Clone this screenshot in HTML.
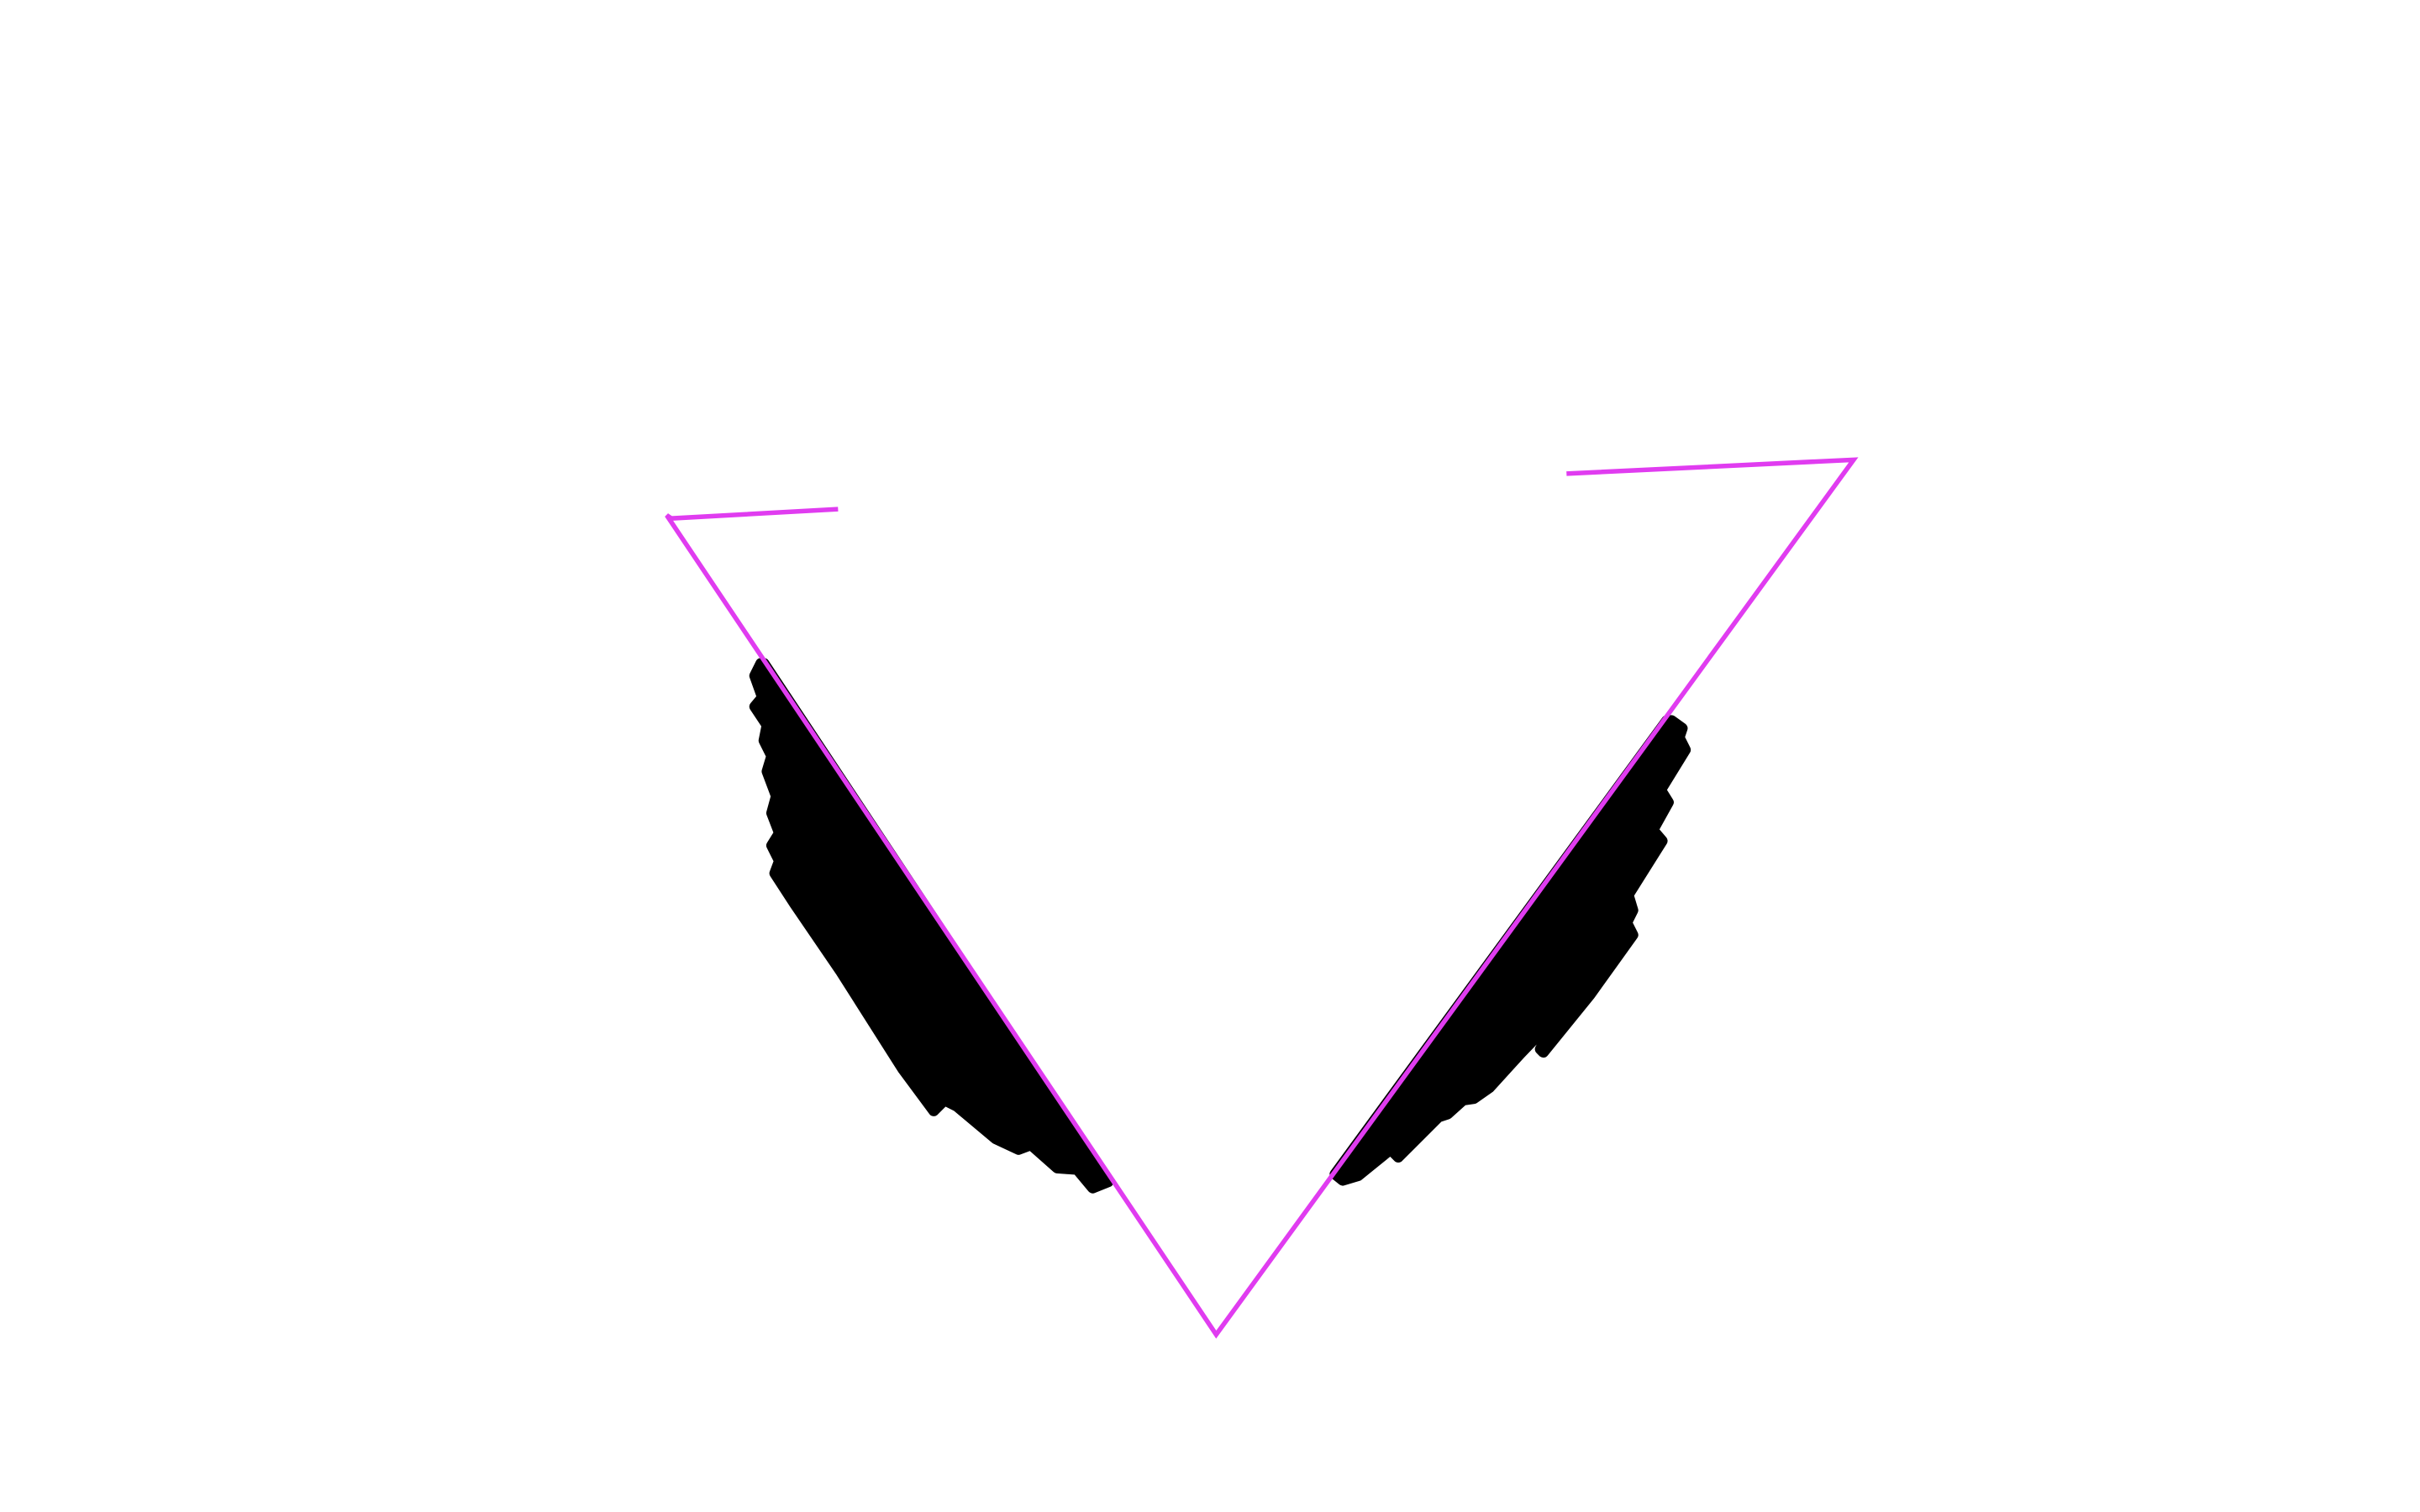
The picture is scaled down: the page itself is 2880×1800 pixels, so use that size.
<!DOCTYPE html>
<html>
<head>
<meta charset="utf-8">
<style>
  html,body{margin:0;padding:0;background:#fff;}
  body{width:2880px;height:1800px;overflow:hidden;}
  svg{display:block;}
</style>
</head>
<body>
<svg id="canvas" width="2880" height="1800" viewBox="0 0 1568 980" xmlns="http://www.w3.org/2000/svg">
  <g id="wings"></g>
  <g id="outline"></g>
</svg>
<script>
const leftWing = [[493,430],[489,438],[494,452],[489,458],[497,470],[495,480],[500,490],[497,500],[503,516],[500,527],[505,540],[500,548],[505,558],[502,566],[515,586],[545,630],[585,693],[605,720],[612,713],[620,717],[645,738],[660,745],[668,742],[685,757],[698,758],[708,770],[718,766],[495,430]];
const rightWing = [[1083,467],[1090,472],[1088,478],[1092,486],[1076,512],[1081,520],[1071,538],[1077,545],[1055,580],[1058,590],[1054,598],[1058,606],[1030,645],[1000,682],[998,680],[1012,655],[985,683],[965,705],[955,712],[948,713],[938,722],[932,724],[906,750],[901,745],[880,762],[870,765],[865,761],[1080,467]];
const outlinePts = [[543,330],[435,336],[432,334],[788,865],[1201,298],[1015,307]];

const NS = "http://www.w3.org/2000/svg";
function toD(pts, close){
  return pts.map((p,i)=>(i?"L":"M")+p[0]+" "+p[1]).join(" ")+(close?" Z":"");
}
const wings = document.getElementById('wings');
[leftWing, rightWing].forEach((w, i) => {
  const p = document.createElementNS(NS, 'path');
  p.setAttribute('d', toD(w, true));
  p.setAttribute('fill', '#000');
  p.setAttribute('stroke', '#000');
  p.setAttribute('stroke-width', '7');
  p.setAttribute('stroke-linejoin', 'round');
  
  
  wings.appendChild(p);
});
const outline = document.getElementById('outline');
const line = document.createElementNS(NS, 'path');
line.setAttribute('d', toD(outlinePts, false));
line.setAttribute('fill', 'none');
line.setAttribute('stroke', '#e03cf0');
line.setAttribute('stroke-width', '3');
line.setAttribute('stroke-linejoin', 'miter');


outline.appendChild(line);
</script>
</body>
</html>
